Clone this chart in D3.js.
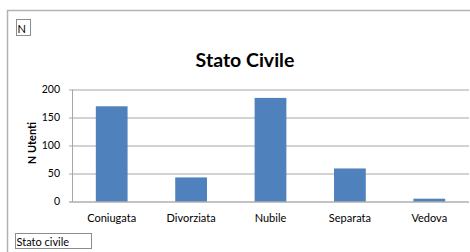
<!DOCTYPE html>
<html>
<head>
<meta charset="utf-8">
<script src="https://cdn.jsdelivr.net/npm/d3@7"></script>
<style>
  html, body { margin: 0; padding: 0; background: #fff; }
  svg { display: block; font-family: Lato, "Open Sans", sans-serif; }
</style>
</head>
<body>
<svg id="chart" width="470" height="252"></svg>
<script>
var categories = ["Coniugata", "Divorziata", "Nubile", "Separata", "Vedova"],
    values = [170, 43, 185, 59, 5],
    yTicks = [0, 50, 100, 150, 200],
    title = "Stato Civile",
    yTitle = "N Utenti",
    xBoxLabel = "Stato civile",
    topBoxLabel = "N";

var svg = d3.select("#chart"),
    margin = { top: 89.5, right: 1, bottom: 50.5, left: 72 },
    width = 470 - margin.left - margin.right,
    height = 252 - margin.top - margin.bottom;

// outer chart frame
svg.append("rect")
    .attr("x", 7.5).attr("y", 10.5)
    .attr("width", 470).attr("height", 260)
    .attr("fill", "none")
    .attr("stroke", "#b3b3b3")
    .attr("stroke-width", 1.5);

var x = d3.scaleBand()
    .domain(categories)
    .range([0, width])
    .paddingInner(0.6)
    .paddingOuter(0.3);

var y = d3.scaleLinear()
    .domain([0, 200])
    .range([height, 0]);

var g = svg.append("g")
    .attr("transform", "translate(" + margin.left + "," + margin.top + ")");

// gridlines
g.append("g")
    .selectAll("line")
    .data(yTicks.filter(function (d) { return d > 0; }))
    .join("line")
    .attr("x1", -3).attr("x2", width)
    .attr("y1", function (d) { return Math.round(y(d)) + 0.5; })
    .attr("y2", function (d) { return Math.round(y(d)) + 0.5; })
    .attr("stroke", "#a6a6a6");

// y axis line
g.append("line")
    .attr("x1", 0.5).attr("x2", 0.5)
    .attr("y1", 0).attr("y2", height)
    .attr("stroke", "#a6a6a6");

// y tick labels
g.append("g")
    .selectAll("text")
    .data(yTicks)
    .join("text")
    .attr("x", -12)
    .attr("y", function (d) { return y(d); })
    .attr("dy", "0.35em")
    .attr("text-anchor", "end")
    .attr("font-size", 10.5)
    .attr("fill", "#000")
    .text(function (d) { return d; });

// bars
g.append("g")
    .selectAll("rect")
    .data(values)
    .join("rect")
    .attr("x", function (d, i) { return x(categories[i]); })
    .attr("y", function (d) { return y(d); })
    .attr("width", x.bandwidth())
    .attr("height", function (d) { return height - y(d); })
    .attr("fill", "#4f81bd");

// x axis line
g.append("line")
    .attr("x1", -3).attr("x2", width)
    .attr("y1", height + 0.5).attr("y2", height + 0.5)
    .attr("stroke", "#868686");

// category labels
g.append("g")
    .selectAll("text")
    .data(categories)
    .join("text")
    .attr("x", function (d) { return x(d) + x.bandwidth() / 2; })
    .attr("y", height + 20)
    .attr("text-anchor", "middle")
    .attr("font-size", 11)
    .attr("fill", "#000")
    .text(function (d) { return d; });

// title
svg.append("text")
    .attr("x", 245)
    .attr("y", 67)
    .attr("text-anchor", "middle")
    .attr("font-size", 19.5)
    .attr("font-weight", "bold")
    .text(title);

// y axis title
svg.append("text")
    .attr("transform", "translate(36,143) rotate(-90)")
    .attr("text-anchor", "middle")
    .attr("font-size", 11)
    .attr("font-weight", "bold")
    .text(yTitle);

// small text boxes
function textBox(x0, y0, w, h, size, label) {
    svg.append("rect")
        .attr("x", x0 + 0.5).attr("y", y0 + 0.5)
        .attr("width", w).attr("height", h)
        .attr("fill", "#fff")
        .attr("stroke", "#8c8c8c");
    svg.append("text")
        .attr("x", x0 + 1.5)
        .attr("y", y0 + h - 2.5)
        .attr("font-size", size)
        .text(label);
}
textBox(16, 19, 14, 16, 11, topBoxLabel);
textBox(15, 233, 76, 15, 11, xBoxLabel);
</script>
</body>
</html>
